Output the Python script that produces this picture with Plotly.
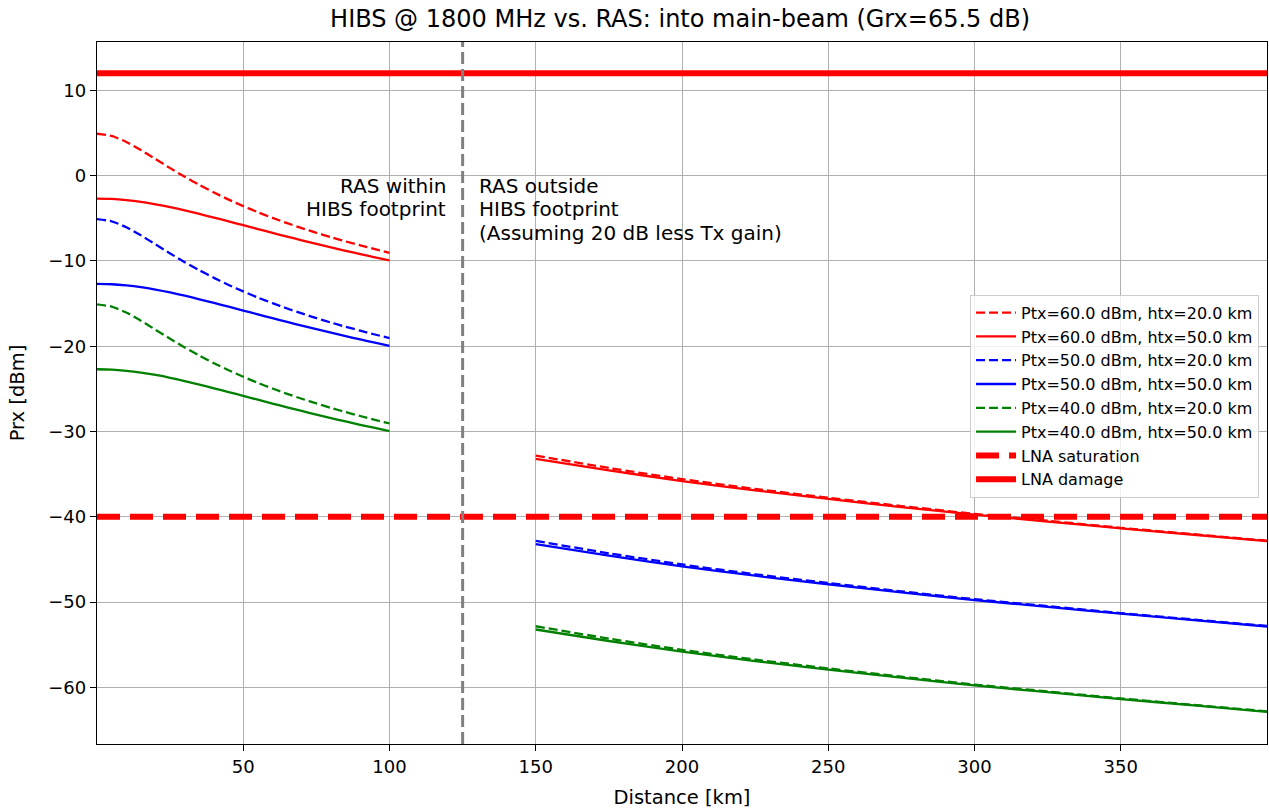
import plotly.graph_objects as go

# ---------------- data ----------------
dist_in = [0, 5, 10, 15, 20, 25, 30, 35, 40, 45, 50, 55, 60, 65, 70, 75, 80, 85, 90, 95, 100]
dist_out = [150, 175, 200, 225, 250, 275, 300, 325, 350, 375, 400]

# Ptx = 60 dBm
p60_h20_in = [4.90, 4.64, 3.94, 2.99, 1.93, 0.87, -0.15, -1.10, -1.99, -2.82, -3.58,
              -4.30, -4.96, -5.58, -6.16, -6.71, -7.23, -7.72, -8.18, -8.63, -9.05]
p60_h50_in = [-2.70, -2.74, -2.88, -3.09, -3.37, -3.70, -4.08, -4.50, -4.93, -5.37, -5.82,
              -6.27, -6.72, -7.16, -7.59, -8.01, -8.42, -8.82, -9.21, -9.58, -9.95]
p60_h20_out = [-32.82, -34.27, -35.58, -36.73, -37.76, -38.73, -39.65, -40.46, -41.28, -42.04, -42.79]
p60_h50_out = [-33.20, -34.55, -35.80, -36.90, -37.90, -38.85, -39.75, -40.55, -41.35, -42.10, -42.85]

# Ptx = 50 dBm
p50_h20_in = [-5.10, -5.36, -6.06, -7.01, -8.07, -9.13, -10.15, -11.10, -11.99, -12.82, -13.58,
              -14.30, -14.96, -15.58, -16.16, -16.71, -17.23, -17.72, -18.18, -18.63, -19.05]
p50_h50_in = [-12.70, -12.74, -12.88, -13.09, -13.37, -13.70, -14.08, -14.50, -14.93, -15.37, -15.82,
              -16.27, -16.72, -17.16, -17.59, -18.01, -18.42, -18.82, -19.21, -19.58, -19.95]
p50_h20_out = [-42.82, -44.27, -45.58, -46.73, -47.76, -48.73, -49.65, -50.46, -51.28, -52.04, -52.79]
p50_h50_out = [-43.20, -44.55, -45.80, -46.90, -47.90, -48.85, -49.75, -50.55, -51.35, -52.10, -52.85]

# Ptx = 40 dBm
p40_h20_in = [-15.10, -15.36, -16.06, -17.01, -18.07, -19.13, -20.15, -21.10, -21.99, -22.82, -23.58,
              -24.30, -24.96, -25.58, -26.16, -26.71, -27.23, -27.72, -28.18, -28.63, -29.05]
p40_h50_in = [-22.70, -22.74, -22.88, -23.09, -23.37, -23.70, -24.08, -24.50, -24.93, -25.37, -25.82,
              -26.27, -26.72, -27.16, -27.59, -28.01, -28.42, -28.82, -29.21, -29.58, -29.95]
p40_h20_out = [-52.82, -54.27, -55.58, -56.73, -57.76, -58.73, -59.65, -60.46, -61.28, -62.04, -62.79]
p40_h50_out = [-53.20, -54.55, -55.80, -56.90, -57.90, -58.85, -59.75, -60.55, -61.35, -62.10, -62.85]

series_labels = [
    "Ptx=60.0 dBm, htx=20.0 km", "Ptx=60.0 dBm, htx=50.0 km",
    "Ptx=50.0 dBm, htx=20.0 km", "Ptx=50.0 dBm, htx=50.0 km",
    "Ptx=40.0 dBm, htx=20.0 km", "Ptx=40.0 dBm, htx=50.0 km",
]

lna_x = [0, 400]
lna_saturation = -40
lna_damage = 12
footprint_edge = 125

within_lines = ["RAS within", "HIBS footprint"]
outside_lines = ["RAS outside", "HIBS footprint", "(Assuming 20 dB less Tx gain)"]

x_ticks = [50, 100, 150, 200, 250, 300, 350]
y_ticks = [-60, -50, -40, -30, -20, -10, 0, 10]
y_ticktext = ["\u221260", "\u221250", "\u221240", "\u221230", "\u221220", "\u221210", "0", "10"]

# ---------------- figure ----------------
FONT = "DejaVu Sans"
fig = go.Figure()

series = [
    (p60_h20_in, p60_h20_out, "#ff0000", "9px,4px"),
    (p60_h50_in, p60_h50_out, "#ff0000", "solid"),
    (p50_h20_in, p50_h20_out, "#0000ff", "9px,4px"),
    (p50_h50_in, p50_h50_out, "#0000ff", "solid"),
    (p40_h20_in, p40_h20_out, "#008000", "9px,4px"),
    (p40_h50_in, p40_h50_out, "#008000", "solid"),
]
for label, (yin, yout, col, dash) in zip(series_labels, series):
    fig.add_trace(go.Scatter(
        x=dist_in + [None] + dist_out,
        y=yin + [None] + yout,
        mode="lines", name=label, connectgaps=False,
        line=dict(color=col, width=2.3, dash=dash, shape="spline", smoothing=0.6),
    ))

fig.add_trace(go.Scatter(
    x=lna_x, y=[lna_saturation] * len(lna_x), mode="lines", name="LNA saturation",
    line=dict(color="#ff0000", width=6, dash="23px,10px"),
))
fig.add_trace(go.Scatter(
    x=lna_x, y=[lna_damage] * len(lna_x), mode="lines", name="LNA damage",
    line=dict(color="#ff0000", width=6),
))

fig.add_vline(x=footprint_edge, line=dict(color="#808080", width=3, dash="12px,5px"))

LINE_STEP = 23.5
for i, txt in enumerate(within_lines):
    fig.add_annotation(x=120, y=0, xref="x", yref="y", text=txt,
                       xanchor="right", yanchor="top", align="right", showarrow=False,
                       yshift=4 - i * LINE_STEP,
                       font=dict(family=FONT, size=20, color="#000000"))
for i, txt in enumerate(outside_lines):
    fig.add_annotation(x=130, y=0, xref="x", yref="y", text=txt,
                       xanchor="left", yanchor="top", align="left", showarrow=False,
                       yshift=4 - i * LINE_STEP,
                       font=dict(family=FONT, size=20, color="#000000"))

axis_common = dict(
    showline=True, linecolor="#000000", linewidth=1.3, mirror=True,
    showgrid=True, gridcolor="#b0b0b0", gridwidth=1.2,
    ticks="outside", ticklen=6, tickwidth=1.3, tickcolor="#000000",
    zeroline=False,
    tickfont=dict(family=FONT, size=18, color="#000000"),
)

fig.update_layout(
    width=1269, height=812,
    margin=dict(l=97, r=2, t=42, b=68),
    paper_bgcolor="#ffffff", plot_bgcolor="#ffffff",
    font=dict(family=FONT, color="#000000"),
    title=dict(text="HIBS @ 1800 MHz vs. RAS: into main-beam (Grx=65.5 dB)",
               x=0.5359, xanchor="center", y=1 - 19 / 812, yanchor="middle", yref="container",
               font=dict(family=FONT, size=24, color="#000000")),
    xaxis=dict(range=[0, 400], tickvals=x_ticks,
               title=dict(text="Distance [km]", font=dict(family=FONT, size=19.5), standoff=14),
               **axis_common),
    yaxis=dict(range=[-66.62, 15.65], tickvals=y_ticks, ticktext=y_ticktext,
               title=dict(text="Prx [dBm]", font=dict(family=FONT, size=19.5), standoff=18),
               **axis_common),
    legend=dict(x=0.9932, y=0.640, xanchor="right", yanchor="top",
                bgcolor="rgba(255,255,255,0.8)", bordercolor="#cccccc", borderwidth=1,
                font=dict(family=FONT, size=16, color="#000000"),
                tracegroupgap=0, itemwidth=40),
    showlegend=True,
)

fig.write_html("out.html")
